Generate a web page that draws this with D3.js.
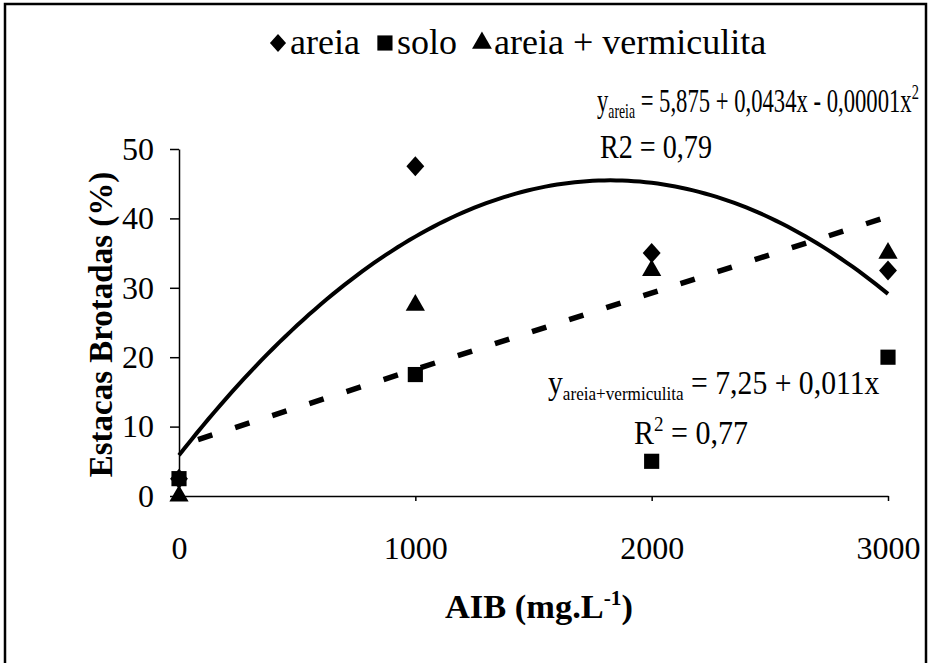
<!DOCTYPE html>
<html>
<head>
<meta charset="utf-8">
<script src="https://cdn.jsdelivr.net/npm/d3@7"></script>
<style>
  body { margin: 0; background: #fff; }
  svg text { font-family: "Liberation Serif", "Times New Roman", serif; fill: #000; }
  .axis path, .axis line { stroke: #000; stroke-width: 1.5; }
  .axis text { font-size: 32px; }
</style>
</head>
<body>
<svg id="chart" width="932" height="663"></svg>
<script>
// doses of AIB (mg/L)
var doses = [0, 1000, 2000, 3000];
// % of sprouted cuttings per substrate
var areia = [2.5, 47.5, 35, 32.5];
var solo = [2.5, 17.5, 5, 20];
var areiaVerm = [0, 27.5, 32.5, 35];
var yTicks = [0, 10, 20, 30, 40, 50];

var svg = d3.select('#chart');

// frame round the whole figure
svg.append('rect')
  .attr('x', 5).attr('y', 4)
  .attr('width', 921).attr('height', 680)
  .attr('fill', 'none').attr('stroke', '#000').attr('stroke-width', 2.5);

var x = d3.scaleLinear().domain([0, 3000]).range([179, 888]);
var y = d3.scaleLinear().domain([0, 50]).range([496, 149]);

svg.append('g')
  .attr('class', 'axis')
  .attr('transform', 'translate(179,0)')
  .call(d3.axisLeft(y).tickValues(yTicks).tickSize(9).tickPadding(16).tickSizeOuter(0));

var xAxis = svg.append('g')
  .attr('class', 'axis')
  .attr('transform', 'translate(0,496)')
  .call(d3.axisBottom(x).tickValues(doses).tickFormat(d3.format('d'))
    .tickSize(5).tickPadding(35).tickSizeOuter(0));
xAxis.select('.tick line').remove(); // no tick at the origin

// the scan's type is tall and narrow: squeeze a text to a width
function fitWidth(sel, w, x0) {
  var bw = sel.node().getBBox().width;
  sel.attr('transform', `translate(${x0},0) scale(${w / bw},1) translate(${-x0},0)`);
}

// least squares fits from the points
function linFit(xs, ys) {
  var mx = d3.mean(xs), my = d3.mean(ys);
  var sxy = d3.sum(xs, (d, i) => (d - mx) * (ys[i] - my));
  var sxx = d3.sum(xs, (d) => (d - mx) * (d - mx));
  var b = sxy / sxx;
  return [my - b * mx, b];
}
function quadFit(xs, ys) {
  // normal equations, solved by cramer
  var s = [0, 0, 0, 0, 0], t = [0, 0, 0];
  xs.forEach((d, i) => {
    for (var k = 0; k < 5; k++) s[k] += Math.pow(d, k);
    for (var k = 0; k < 3; k++) t[k] += ys[i] * Math.pow(d, k);
  });
  var m = [[s[0], s[1], s[2]], [s[1], s[2], s[3]], [s[2], s[3], s[4]]];
  function det(a) {
    return a[0][0] * (a[1][1] * a[2][2] - a[1][2] * a[2][1])
      - a[0][1] * (a[1][0] * a[2][2] - a[1][2] * a[2][0])
      + a[0][2] * (a[1][0] * a[2][1] - a[1][1] * a[2][0]);
  }
  var D = det(m);
  return [0, 1, 2].map((c) => {
    var a = m.map((row, r) => row.map((v, j) => (j === c ? t[r] : v)));
    return det(a) / D;
  });
}

var q = quadFit(doses, areia);
var l = linFit(doses, areiaVerm);
var xs = d3.range(0, 3001, 25);

var line = d3.line().x((d) => x(d[0])).y((d) => y(d[1]));

svg.append('path')
  .datum(xs.map((d) => [d, q[0] + q[1] * d + q[2] * d * d]))
  .attr('d', line)
  .attr('fill', 'none').attr('stroke', '#000').attr('stroke-width', 4);

svg.append('path')
  .datum([[0, l[0]], [3000, l[0] + l[1] * 3000]])
  .attr('d', line)
  .attr('fill', 'none').attr('stroke', '#000').attr('stroke-width', 5.5)
  .attr('stroke-dasharray', '15,24').attr('stroke-dashoffset', 19);

// a fat diamond, close to the scanned marker
var fatDiamond = {
  draw(ctx, size) {
    var r = Math.sqrt(size / 2);
    ctx.moveTo(0, -r * 1.12);
    ctx.lineTo(r, 0);
    ctx.lineTo(0, r * 1.12);
    ctx.lineTo(-r, 0);
    ctx.closePath();
  }
};

// markers
function drawSeries(vals, type, size) {
  svg.append('g').selectAll('path')
    .data(vals)
    .enter()
    .append('path')
    .attr('transform', (d, i) => `translate(${x(doses[i])},${y(d)})`)
    .attr('d', d3.symbol().type(type).size(size))
    .attr('fill', '#000');
}
drawSeries(areiaVerm, d3.symbolTriangle, 160);
drawSeries(areia, fatDiamond, 160);
drawSeries(solo, d3.symbolSquare, 230);

// legend
var legend = svg.append('g').attr('transform', 'translate(0,54)');
var items = [
  {type: fatDiamond, size: 130, label: 'areia'},
  {type: d3.symbolSquare, size: 230, label: 'solo'},
  {type: d3.symbolTriangle, size: 170, label: 'areia + vermiculita'}
];
var cx = 269;
items.forEach((it) => {
  legend.append('path')
    .attr('transform', `translate(${cx + 9},-11)`)
    .attr('d', d3.symbol().type(it.type).size(it.size))
    .attr('fill', '#000');
  var t = legend.append('text')
    .attr('x', cx + 21)
    .style('font-size', '36px')
    .text(it.label);
  cx += 21 + t.node().getComputedTextLength() + 16;
});

// equations
var eq1 = svg.append('text').attr('x', 597).attr('y', 112).style('font-size', '33px');
eq1.append('tspan').text('y');
eq1.append('tspan').attr('dy', 6).style('font-size', '20px').text('areia');
eq1.append('tspan').attr('dy', -6).text(' = 5,875 + 0,0434x - 0,00001x');
eq1.append('tspan').attr('dy', -13).style('font-size', '21px').text('2');
fitWidth(eq1, 322, 597);

var r79 = svg.append('text').attr('x', 600).attr('y', 158).style('font-size', '33px')
  .text('R2 = 0,79');
fitWidth(r79, 112, 600);

var eq2 = svg.append('text').attr('x', 548).attr('y', 394).style('font-size', '33px');
eq2.append('tspan').text('y');
eq2.append('tspan').attr('dy', 6).style('font-size', '19px').text('areia+vermiculita');
eq2.append('tspan').attr('dy', -6).text(' = 7,25 + 0,011x');
fitWidth(eq2, 332, 548);

var r2 = svg.append('text').attr('x', 634).attr('y', 444).style('font-size', '33px');
r2.append('tspan').text('R');
r2.append('tspan').attr('dy', -13).style('font-size', '21px').text('2');
r2.append('tspan').attr('dy', 13).text(' = 0,77');
fitWidth(r2, 114, 634);

// axis titles
svg.append('text')
  .attr('transform', `translate(112,${(y(0) + y(50)) / 2 + 2})rotate(-90)`)
  .attr('text-anchor', 'middle')
  .style('font-size', '33px').style('font-weight', 'bold')
  .text('Estacas Brotadas (%)');

var xt = svg.append('text')
  .attr('x', 445).attr('y', 618)
  .style('font-size', '34px').style('font-weight', 'bold');
xt.append('tspan').text('AIB (mg.L');
xt.append('tspan').attr('dy', -13).style('font-size', '21px').text('-1');
xt.append('tspan').attr('dy', 13).text(')');
fitWidth(xt, 188, 445);
</script>
</body>
</html>
